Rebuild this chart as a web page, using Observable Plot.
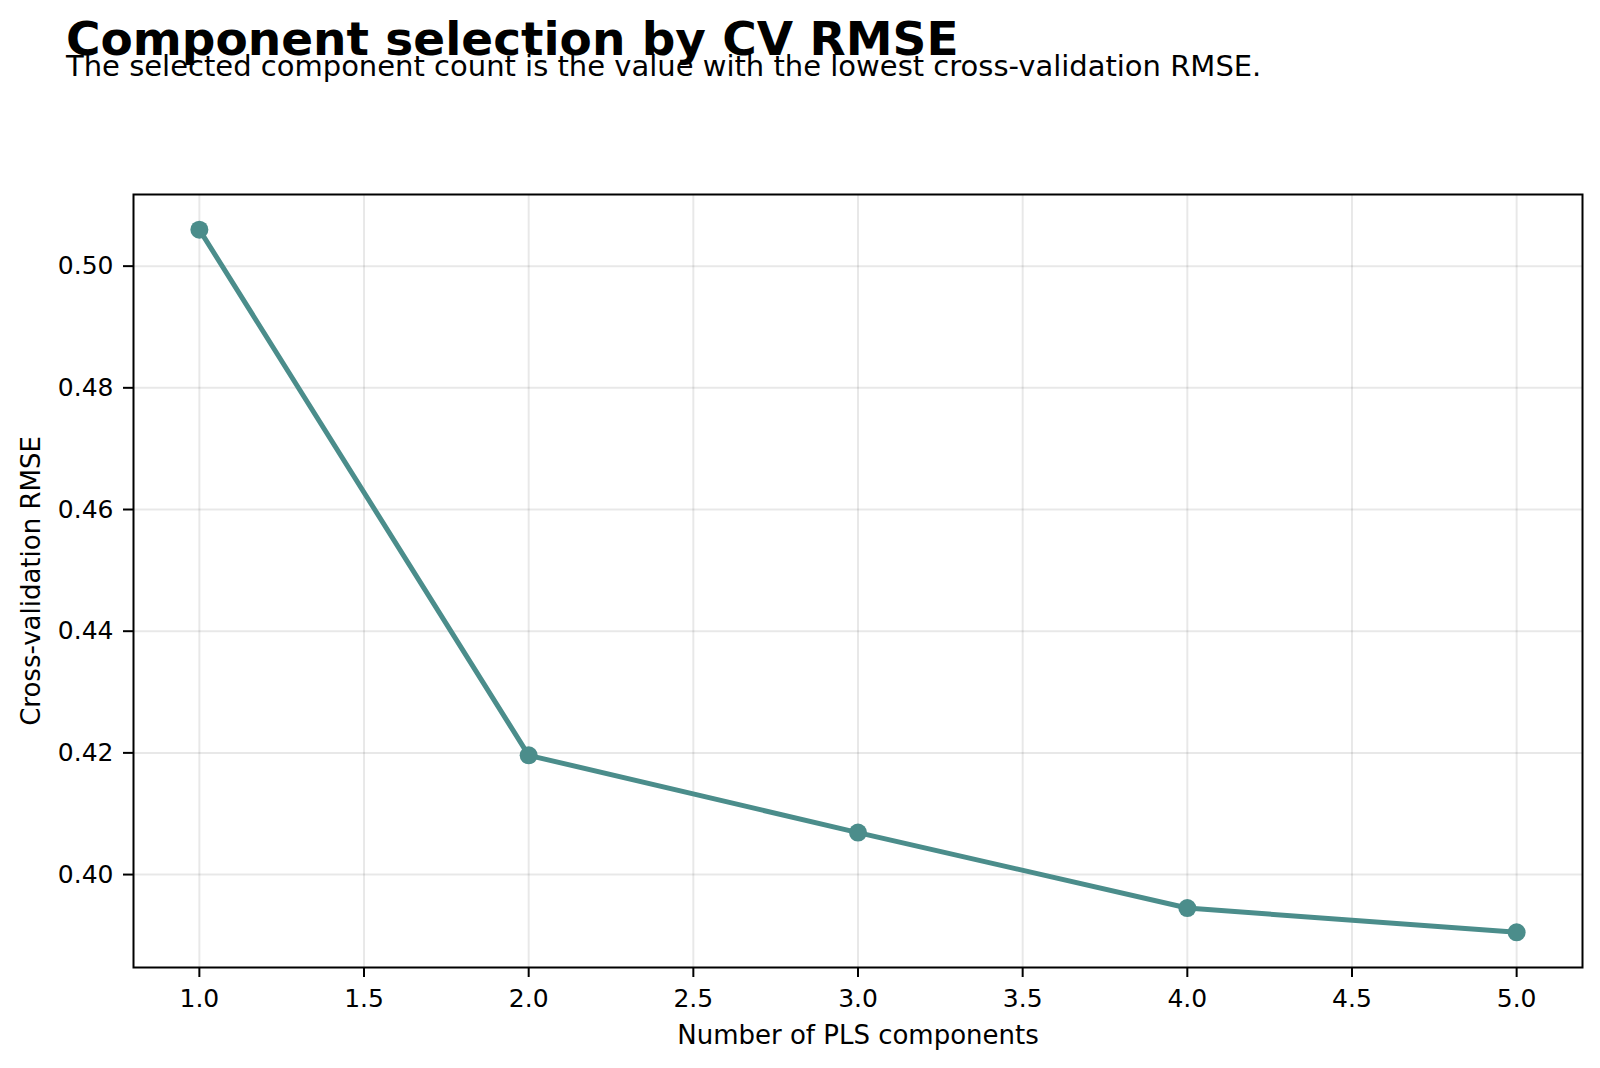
<!DOCTYPE html>
<html>
<head>
<meta charset="utf-8">
<script src="https://cdn.jsdelivr.net/npm/d3@7"></script>
<script src="https://cdn.jsdelivr.net/npm/@observablehq/plot@0.6"></script>
<style>
  html, body { margin: 0; padding: 0; background: #fff; }
  #wrap { position: relative; width: 1600px; height: 1068px; font-family: "DejaVu Sans", sans-serif; }
  #title { position: absolute; left: 66px; top: 15px; font-size: 47px; font-weight: bold; color: #000; white-space: nowrap; line-height: 1; }
  #subtitle { position: absolute; left: 66px; top: 52px; font-size: 29px; color: #000; white-space: nowrap; line-height: 1; }
  #chart { position: absolute; left: 0; top: 0; }
</style>
</head>
<body>
<div id="wrap">
  <div id="chart"></div>
  <div id="title">Component selection by CV RMSE</div>
  <div id="subtitle">The selected component count is the value with the lowest cross-validation RMSE.</div>
</div>
<script>
// Cross-validation RMSE for each number of PLS components
const components = [1, 2, 3, 4, 5];
const cvRmse = [0.5060, 0.4196, 0.4069, 0.3945, 0.3905];

// Axis tick values
const xTicks = [1.0, 1.5, 2.0, 2.5, 3.0, 3.5, 4.0, 4.5, 5.0];
const yTicks = [0.40, 0.42, 0.44, 0.46, 0.48, 0.50];

const data = components.map((c, i) => ({ components: c, rmse: cvRmse[i] }));

// pad the data extent by 5% on each side
const pad = (arr) => {
  const [a, b] = d3.extent(arr);
  const r = b - a;
  return [a - 0.05 * r, b + 0.05 * r];
};

const lineColor = "#4b8d8b";

const chart = Plot.plot({
  width: 1600,
  height: 1068,
  marginTop: 194,
  marginLeft: 133,
  marginRight: 18,
  marginBottom: 101,
  style: { fontFamily: "DejaVu Sans, sans-serif", fontSize: "25px", color: "#000", background: "#fff" },
  x: { domain: pad(components) },
  y: { domain: pad(cvRmse) },
  marks: [
    Plot.gridX(xTicks, { stroke: "#000", strokeOpacity: 0.09, strokeWidth: 2 }),
    Plot.gridY(yTicks, { stroke: "#000", strokeOpacity: 0.09, strokeWidth: 2 }),
    Plot.axisX(xTicks, {
      tickFormat: d3.format(".1f"), tickSize: 10, tickPadding: 12, strokeWidth: 2,
      fontSize: 25, label: null
    }),
    Plot.axisX({
      ticks: [], tickSize: 0, fontSize: 26, label: "Number of PLS components",
      labelAnchor: "center", labelArrow: "none", labelOffset: 76
    }),
    Plot.axisY(yTicks, {
      tickFormat: d3.format(".2f"), tickSize: 10, tickPadding: 10, strokeWidth: 2,
      fontSize: 25, label: null
    }),
    Plot.axisY({
      ticks: [], tickSize: 0, fontSize: 26, label: "Cross-validation RMSE",
      labelAnchor: "center", labelArrow: "none", labelOffset: 112
    }),
    Plot.line(data, { x: "components", y: "rmse", stroke: lineColor, strokeWidth: 5 }),
    Plot.dot(data, { x: "components", y: "rmse", fill: lineColor, r: 9 }),
    Plot.frame({ stroke: "#000", strokeWidth: 2 })
  ]
});

document.getElementById("chart").appendChild(chart);
</script>
</body>
</html>
